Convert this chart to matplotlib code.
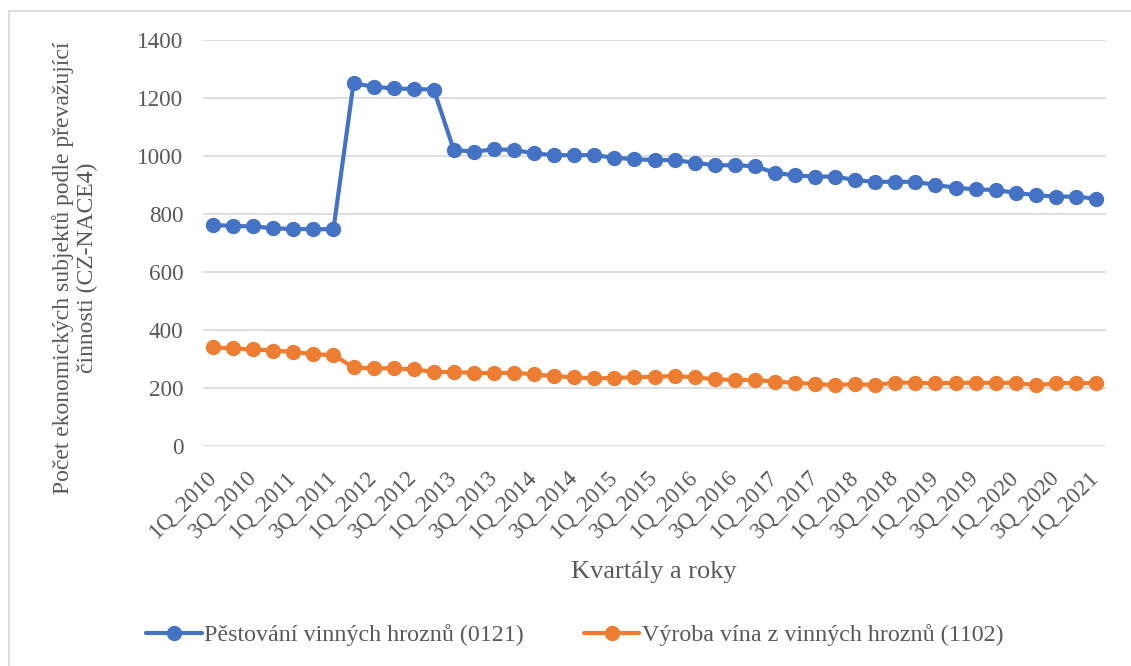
import matplotlib
matplotlib.use("Agg")
import matplotlib.pyplot as plt
from matplotlib.patches import Rectangle

# ---- data ----
years = list(range(2010, 2022))
quarters = [f"{q}Q_{y}" for y in years for q in (1, 2, 3, 4)][:45]
tick_labels = quarters[::2]

pestovani = [763, 760, 758, 752, 749, 749, 748,
             1252, 1240, 1234, 1232, 1230,
             1022, 1016, 1024, 1022, 1010, 1004, 1004, 1004,
             995, 990, 987, 987, 978, 969, 969, 966, 943, 934,
             930, 930, 918, 912, 912, 912, 901, 892, 886, 884,
             874, 866, 861, 861, 854]
vyroba = [341, 338, 334, 330, 326, 317, 315,
          272, 269, 269, 265, 257, 255, 254, 252, 254, 248, 242, 238, 234,
          236, 238, 240, 242, 238, 231, 229, 229, 223, 219,
          215, 211, 215, 211, 220, 219, 217, 219, 219, 219,
          219, 211, 217, 219, 217]

name_a = "Pěstování vinných hroznů (0121)"
name_b = "Výroba vína z vinných hroznů (1102)"
ylabel = "Počet ekonomických subjektů podle převažující\nčinnosti (CZ-NACE4)"
xlabel = "Kvartály a roky"

plt.rcParams['font.family'] = ['Liberation Serif', 'DejaVu Serif']
txt = '#595959'

W, H = 1131, 666
fig = plt.figure(figsize=(W / 100, H / 100), dpi=100)
ax = fig.add_axes([203 / W, 1 - 446.3 / H, (1106 - 203) / W, (446.3 - 40.3) / H])

x = list(range(len(quarters)))
ax.plot(x, pestovani, color='#4472C4', lw=3.0, marker='o', ms=10, label=name_a,
        solid_capstyle='round')
ax.plot(x, vyroba, color='#ED7D31', lw=3.0, marker='o', ms=10, label=name_b,
        solid_capstyle='round')

ax.set_xlim(-0.5, len(quarters) - 0.5)
ax.set_ylim(0, 1400)
ax.set_yticks(range(0, 1401, 200))
ax.set_xticks(x[::2])
ax.set_xticklabels(tick_labels, rotation=45, ha='right', va='center',
                   rotation_mode='anchor')
ax.tick_params(axis='both', length=0, labelsize=16.7, colors=txt)
ax.tick_params(axis='y', pad=14)
ax.tick_params(axis='x', pad=20)
for s in ax.spines.values():
    s.set_visible(False)
ax.grid(axis='y', color='#D9D9D9', lw=1.2)
ax.set_axisbelow(True)

fig.text(654 / W, 1 - 572 / H, xlabel, ha='center', va='center', fontsize=19, color=txt)
fig.text(75 / W, 1 - 268 / H, ylabel, ha='center', va='center', rotation=90,
         fontsize=17, color=txt, multialignment='center', linespacing=1.2)

leg = fig.legend(loc='center', bbox_to_anchor=(575 / W, 1 - 635 / H), ncol=2,
                 frameon=False, fontsize=17.3, handlelength=2.3, handletextpad=0.12,
                 columnspacing=2.5)
for t in leg.get_texts():
    t.set_color(txt)

fig.patches.append(Rectangle((8.5 / W, -0.05), 1.2, 1.05 - 11 / H, transform=fig.transFigure,
                             fill=False, edgecolor='#D9D9D9', lw=1.2))

fig.savefig('out.png', dpi=100)
